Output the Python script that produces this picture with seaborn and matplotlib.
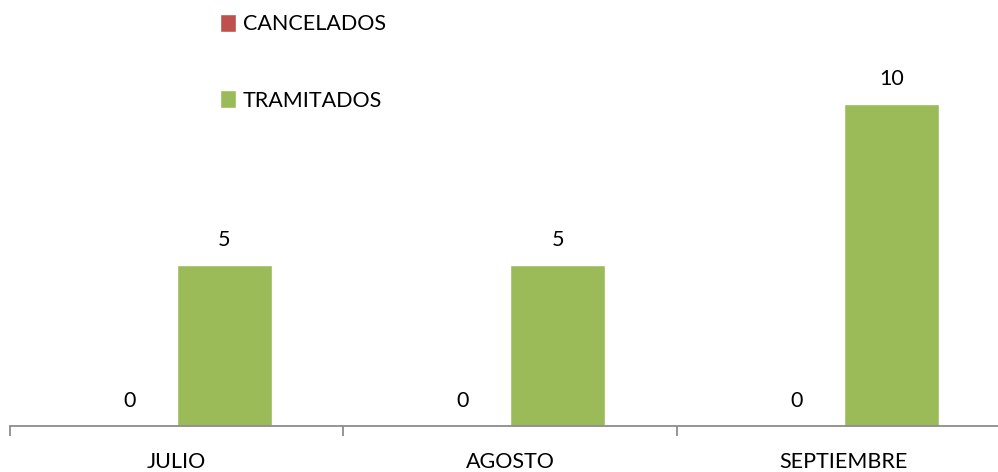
import matplotlib
matplotlib.use("Agg")
import matplotlib.pyplot as plt
import seaborn as sns
import pandas as pd
from matplotlib.ticker import FixedLocator

months = ["JULIO", "AGOSTO", "SEPTIEMBRE"]
cancelados = [0, 0, 0]
tramitados = [5, 5, 10]
series = ["CANCELADOS", "TRAMITADOS"]
colors = ["#C0504D", "#9BBB59"]

df = pd.DataFrame({
    "mes": months * 2,
    "serie": [series[0]] * len(months) + [series[1]] * len(months),
    "valor": cancelados + tramitados,
})

sns.set_style("white")
plt.rcParams["font.family"] = ["Lato", "DejaVu Sans"]
plt.rcParams["text.color"] = "#000000"

FS = 15.5
W, H = 998, 472
fig = plt.figure(figsize=(W / 100, H / 100), dpi=100)
ax = fig.add_axes([10 / W, 46 / H, (W - 10) / W, 426 / H])

sns.barplot(data=df, x="mes", y="valor", hue="serie", palette=colors,
            width=0.57, saturation=1, errorbar=None, ax=ax)

ax.set_xlim(-0.5, (W - 10) / 333.5 - 0.5)
ax.set_ylim(0, 426 / 32.2)

for c in ax.containers:
    ax.bar_label(c, padding=11, fontsize=FS, color="#000000")

for s in ["left", "top", "right"]:
    ax.spines[s].set_visible(False)
ax.spines["bottom"].set_color("#8c8c8c")
ax.spines["bottom"].set_linewidth(1.3)
ax.set_yticks([])
ax.set_xlabel("")
ax.set_ylabel("")

ax.xaxis.set_major_locator(FixedLocator([0, 1, 2]))
ax.set_xticklabels(months, fontsize=FS, color="#000000")
ax.tick_params(axis="x", which="major", length=0, pad=19)
ax.xaxis.set_minor_locator(FixedLocator([-0.5, 0.5, 1.5, 2.5]))
ax.tick_params(axis="x", which="minor", bottom=True, length=7, width=1.3,
               color="#8c8c8c", direction="out")

handles, labels = ax.get_legend_handles_labels()
ax.legend(handles, labels, loc="upper left", bbox_to_anchor=(220 / W, 1 - 14 / H),
          bbox_transform=fig.transFigure, frameon=False, fontsize=FS,
          handlelength=0.75, handleheight=0.9, handletextpad=0.3,
          labelspacing=2.6, borderpad=0, borderaxespad=0, labelcolor="#000000")

fig.savefig("out.png", dpi=100)
